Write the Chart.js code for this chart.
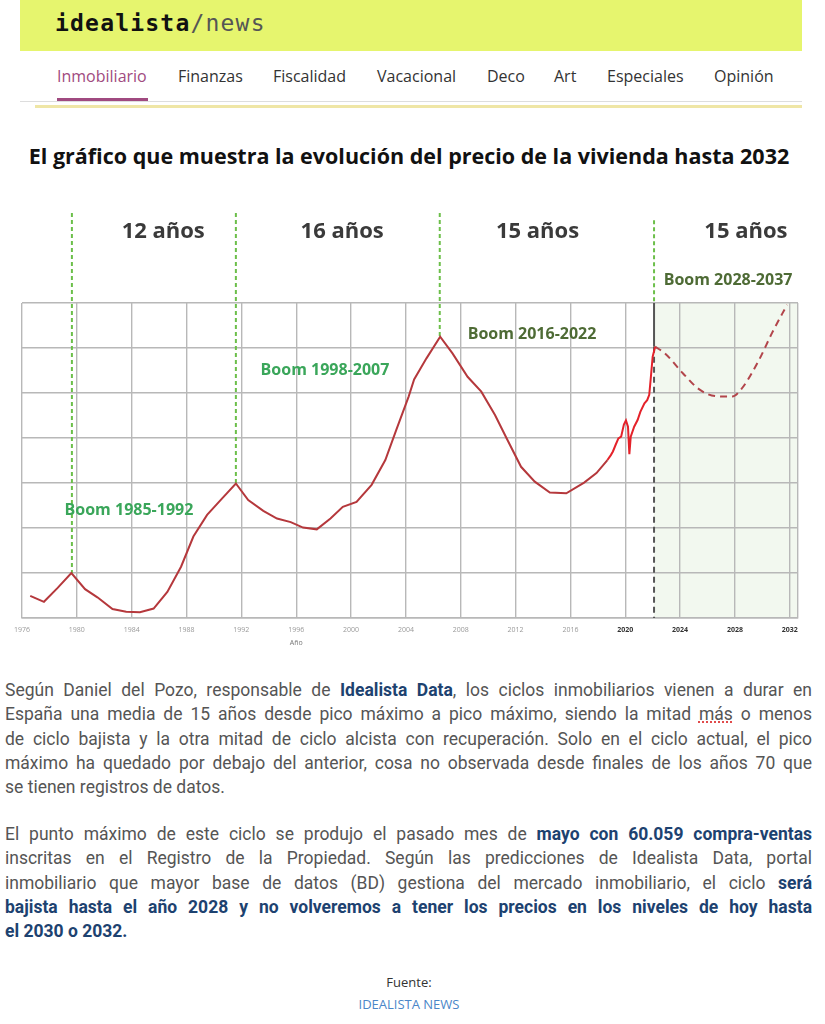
<!DOCTYPE html>
<html lang="es">
<head>
<meta charset="utf-8">
<script src="https://cdn.jsdelivr.net/npm/chart.js@4.4.1/dist/chart.umd.min.js"></script>
<style>
  body { margin: 0; width: 825px; height: 1024px; background: #fff; position: relative; overflow: hidden; font-family: Roboto, sans-serif; }
  .banner { position: absolute; left: 20px; top: 0; width: 782px; height: 51px; background: #e6f56e; }
  .logo { position: absolute; left: 55px; top: 10px; font-family: "DejaVu Sans Mono", monospace; font-size: 23px; letter-spacing: 1.2px; color: #111; font-weight: bold; }
  .logo span { color: #555; font-weight: normal; }
  .nav a { position: absolute; top: 65px; font-family: "Open Sans", sans-serif; font-size: 16px; color: #333; text-decoration: none; }
  .nav a.on { color: #a04a80; }
  .navline1 { position: absolute; left: 57px; top: 98px; width: 91px; height: 3px; background: #a04a80; }
  .navline2 { position: absolute; left: 20px; top: 101px; width: 782px; height: 1px; background: #ddd; }
  .navline3 { position: absolute; left: 35px; top: 105px; width: 767px; height: 3px; background: #efe6a6; }
  h1 { position: absolute; left: 0; top: 141px; width: 818px; margin: 0; text-align: center; font-family: "Open Sans", sans-serif; font-weight: 700; font-size: 21.5px; color: #111; }
  .chartbox { position: absolute; left: 0; top: 195px; width: 825px; height: 465px; }
  .txt { position: absolute; left: 5px; width: 807px; font-family: Roboto, sans-serif; font-size: 17.5px; color: #555; }
  .txt div { height: 24.3px; line-height: 24.3px; white-space: nowrap; text-align: justify; text-align-last: justify; }
  .txt div.last { text-align-last: left; }
  .txt b { color: #1d4270; font-weight: 700; }
  .sp { text-decoration: underline dotted #d33; }
  .src { position: absolute; left: 0; width: 818px; text-align: center; font-family: "Open Sans", sans-serif; font-size: 13px; }
</style>
</head>
<body>
<div class="banner"></div>
<div class="logo">idealista<span>/news</span></div>
<div class="nav">
  <a class="on" style="left:57px">Inmobiliario</a>
  <a style="left:178px">Finanzas</a>
  <a style="left:273px">Fiscalidad</a>
  <a style="left:377px">Vacacional</a>
  <a style="left:487px">Deco</a>
  <a style="left:554px">Art</a>
  <a style="left:607px">Especiales</a>
  <a style="left:714px">Opinión</a>
</div>
<div class="navline2"></div>
<div class="navline1"></div>
<div class="navline3"></div>

<h1>El gráfico que muestra la evolución del precio de la vivienda hasta 2032</h1>

<div class="chartbox"><canvas id="precioChart" width="825" height="465"></canvas></div>

<div class="txt" style="top:678px">
  <div>Según Daniel del Pozo, responsable de <b>Idealista Data</b>, los ciclos inmobiliarios vienen a durar en</div>
  <div>España una media de 15 años desde pico máximo a pico máximo, siendo la mitad <span class="sp">más</span> o menos</div>
  <div>de ciclo bajista y la otra mitad de ciclo alcista con recuperación. Solo en el ciclo actual, el pico</div>
  <div>máximo ha quedado por debajo del anterior, cosa no observada desde finales de los años 70 que</div>
  <div class="last">se tienen registros de datos.</div>
</div>
<div class="txt" style="top:822px">
  <div>El punto máximo de este ciclo se produjo el pasado mes de <b>mayo con 60.059 compra-ventas</b></div>
  <div>inscritas en el Registro de la Propiedad. Según las predicciones de Idealista Data, portal</div>
  <div>inmobiliario que mayor base de datos (BD) gestiona del mercado inmobiliario, el ciclo <b>será</b></div>
  <div><b>bajista hasta el año 2028 y no volveremos a tener los precios en los niveles de hoy hasta</b></div>
  <div class="last"><b>el 2030 o 2032.</b></div>
</div>
<div class="src" style="top:973px;color:#333">Fuente:</div>
<div class="src" style="top:995px;color:#4a86c8">IDEALISTA NEWS</div>

<script>
// precio vivienda (índice relativo, escala del gráfico)
const histYears = [1976.6, 1977.6, 1978.6, 1979.6, 1980.6, 1981.5, 1982.6, 1983.6, 1984.6, 1985.6,
  1986.6, 1987.6, 1988.5, 1989.5, 1990.6, 1991.6, 1992.5, 1993.6, 1994.6, 1995.6,
  1996.5, 1997.5, 1998.5, 1999.4, 2000.4, 2001.5, 2002.5, 2003.3, 2004.2, 2004.6,
  2005.5, 2006.5, 2007.4, 2008.5, 2009.5, 2010.5, 2011.4, 2012.4, 2013.4, 2014.5,
  2015.7, 2017.0, 2017.9, 2018.7];
const histValues = [0.49, 0.36, 0.67, 1.0, 0.64, 0.46, 0.2, 0.14, 0.13, 0.21,
  0.58, 1.14, 1.81, 2.29, 2.66, 2.99, 2.62, 2.38, 2.21, 2.13,
  2.01, 1.97, 2.21, 2.47, 2.58, 2.96, 3.51, 4.18, 4.92, 5.3,
  5.77, 6.25, 5.88, 5.36, 5.03, 4.51, 3.96, 3.36, 3.03, 2.79,
  2.77, 3.01, 3.22, 3.51];

const recentYears = [2018.7, 2018.95, 2019.1, 2019.3, 2019.5, 2019.7, 2019.9, 2020.05, 2020.2, 2020.3,
  2020.4, 2020.65, 2020.9, 2021.1, 2021.4, 2021.6, 2021.75, 2021.85, 2022.0, 2022.18];
const recentValues = [3.51, 3.62, 3.7, 3.85, 3.99, 4.03, 4.3, 4.39, 4.25, 3.64,
  4.03, 4.25, 4.4, 4.58, 4.77, 4.84, 4.96, 5.29, 5.81, 6.03];

const forecastYears = [2022.18, 2022.9, 2024.2, 2025.4, 2026.6, 2027.8, 2028.5, 2029.75, 2030.7, 2031.8];
const forecastValues = [6.03, 5.88, 5.44, 5.08, 4.93, 4.92, 5.1, 5.73, 6.33, 6.96];

// picos de cada ciclo (líneas verdes)
const peakYears = [1979.64, 1991.6, 2006.47, 2022.1];
const peakValues = [1.0, 2.99, 6.25, 6.03];

const cycleLabels = ['12 años', '16 años', '15 años', '15 años'];
const cycleLabelYears = [1986.3, 1999.35, 2013.6, 2028.8];

const boomLabels = ['Boom 1985-1992', 'Boom 1998-2007', 'Boom 2016-2022', 'Boom 2028-2037'];
const boomYears = [1983.8, 1998.1, 2013.2, 2027.5];
const boomValues = [2.38, 5.51, 6.31, 7.51];

const xTicks = [1976, 1980, 1984, 1988, 1992, 1996, 2000, 2004, 2008, 2012, 2016, 2020, 2024, 2028, 2032];

const toPts = (xs, ys) => xs.map((x, i) => ({ x: x, y: ys[i] }));

const overlay = {
    id: 'overlay',
    beforeDraw(chart) {
        const { ctx, chartArea, scales: { x } } = chart;
        ctx.save();
        ctx.fillStyle = '#f2f8ef';
        const x0 = x.getPixelForValue(peakYears[3]);
        ctx.fillRect(x0, chartArea.top, chartArea.right - x0, chartArea.bottom - chartArea.top);
        ctx.restore();
    },
    beforeDatasetsDraw(chart) {
        const { ctx, chartArea, scales: { x, y } } = chart;
        ctx.save();
        ctx.lineWidth = 2;
        peakYears.forEach((yr, i) => {
            const px = x.getPixelForValue(yr);
            const top = y.getPixelForValue(i === 3 ? 8.84 : 9.0);
            const peak = y.getPixelForValue(peakValues[i]);
            ctx.strokeStyle = '#6cbf4a';
            ctx.setLineDash([4, 3]);
            ctx.beginPath();
            ctx.moveTo(px, top);
            ctx.lineTo(px, i === 3 ? chartArea.top : peak);
            ctx.stroke();
            if (i === 3) {
                // tramo sólido hasta el pico y discontinuo hasta el eje
                ctx.strokeStyle = '#555';
                ctx.setLineDash([]);
                ctx.beginPath();
                ctx.moveTo(px, chartArea.top);
                ctx.lineTo(px, peak);
                ctx.stroke();
                ctx.setLineDash([6, 4]);
                ctx.beginPath();
                ctx.moveTo(px, peak);
                ctx.lineTo(px, chartArea.bottom);
                ctx.stroke();
            }
        });
        ctx.restore();
    },
    afterDraw(chart) {
        const { ctx, scales: { x, y } } = chart;
        ctx.save();
        ctx.textAlign = 'center';
        ctx.textBaseline = 'middle';
        ctx.fillStyle = '#3a3a3a';
        ctx.font = 'bold 22px "Open Sans"';
        cycleLabels.forEach((t, i) => {
            ctx.fillText(t, x.getPixelForValue(cycleLabelYears[i]), y.getPixelForValue(8.58));
        });
        ctx.font = 'bold 16px "Open Sans"';
        boomLabels.forEach((t, i) => {
            ctx.fillStyle = i < 2 ? '#3aa65a' : '#4e6b35';
            ctx.fillText(t, x.getPixelForValue(boomYears[i]), y.getPixelForValue(boomValues[i]));
        });
        ctx.fillStyle = '#777';
        ctx.font = '7px "Open Sans"';
        ctx.fillText('Año', x.getPixelForValue(1996), chart.chartArea.bottom + 25);
        ctx.restore();
    }
};

const config = {
    type: 'line',
    data: {
        datasets: [
            {
                data: toPts(histYears, histValues),
                borderColor: '#b5383c',
                borderWidth: 2,
                pointRadius: 0,
                tension: 0
            },
            {
                data: toPts(recentYears, recentValues),
                borderColor: '#e4222a',
                borderWidth: 2,
                pointRadius: 0,
                tension: 0
            },
            {
                data: toPts(forecastYears, forecastValues),
                borderColor: '#b2454b',
                borderWidth: 2,
                borderDash: [7, 5],
                pointRadius: 0,
                cubicInterpolationMode: 'monotone'
            }
        ]
    },
    options: {
        responsive: false,
        animation: false,
        layout: {
            padding: { left: 22, right: 27, top: 108, bottom: 0 }
        },
        scales: {
            x: {
                type: 'linear',
                min: 1976,
                max: 2032.6,
                afterBuildTicks: (axis) => {
                    axis.ticks = xTicks.map(v => ({ value: v })).concat([{ value: 2032.6 }]);
                },
                afterFit: (axis) => { axis.height = 42; },
                grid: { color: '#b8b8b8', lineWidth: 1.4, drawTicks: false },
                border: { color: '#b8b8b8', width: 1.4 },
                ticks: {
                    padding: 8,
                    maxRotation: 0,
                    autoSkip: false,
                    callback: (v) => xTicks.includes(v) ? String(v) : '',
                    color: (c) => c.tick && c.tick.value >= 2020 ? '#333' : '#999',
                    font: (c) => ({ size: 7, family: 'Open Sans', weight: c.tick && c.tick.value >= 2020 ? 'bold' : 'normal' })
                }
            },
            y: {
                min: 0,
                max: 7,
                afterFit: (axis) => { axis.width = 0; },
                grid: { color: '#b8b8b8', lineWidth: 1.4, drawTicks: false },
                border: { display: false },
                ticks: { display: false, stepSize: 1 }
            }
        },
        plugins: {
            legend: { display: false },
            tooltip: { enabled: false }
        }
    },
    plugins: [overlay]
};

const precioChart = new Chart(document.getElementById('precioChart'), config);
</script>
</body>
</html>
